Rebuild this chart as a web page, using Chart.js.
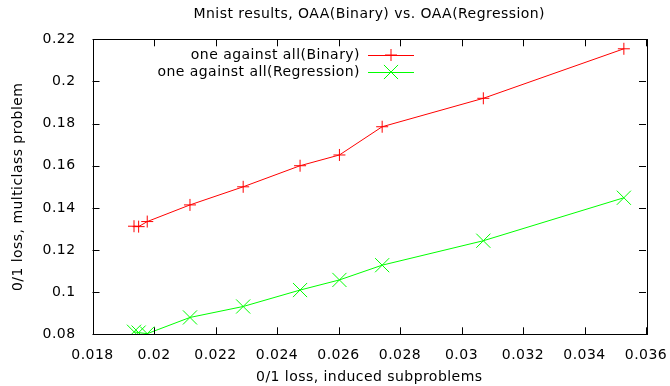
<!DOCTYPE html>
<html>
<head>
<meta charset="utf-8">
<script src="https://cdn.jsdelivr.net/npm/chart.js@4/dist/chart.umd.min.js"></script>
<style>
  html, body { margin: 0; padding: 0; background: #fff; }
  #wrap { width: 670px; height: 386px; }
</style>
</head>
<body>
<div id="wrap"><canvas id="mnistChart" width="670" height="386"></canvas></div>
<script>
// Data
const subproblemLoss = [0.01935, 0.01950, 0.01978, 0.02117, 0.0229, 0.02475, 0.02603, 0.02742, 0.03071, 0.03528];
const binaryLoss = [0.1313, 0.1311, 0.1335, 0.1414, 0.1500, 0.1600, 0.1651, 0.1785, 0.1920, 0.2155];
const regressionLoss = [0.0812, 0.0808, 0.0803, 0.0880, 0.0932, 0.1010, 0.1058, 0.1128, 0.1244, 0.1448];

const xTicks = [0.018, 0.020, 0.022, 0.024, 0.026, 0.028, 0.030, 0.032, 0.034, 0.036];
const xTickLabels = ['0.018', '0.02', '0.022', '0.024', '0.026', '0.028', '0.03', '0.032', '0.034', '0.036'];
const yTicks = [0.08, 0.10, 0.12, 0.14, 0.16, 0.18, 0.20, 0.22];
const yTickLabels = ['0.08', '0.1', '0.12', '0.14', '0.16', '0.18', '0.2', '0.22'];

const seriesNames = ['one against all(Binary)', 'one against all(Regression)'];
const seriesColors = ['#ff0000', '#00ff00'];
const seriesMarkers = ['cross', 'crossRot'];
const markerSizes = [6, 10];

const chartTitle = 'Mnist results, OAA(Binary) vs. OAA(Regression)';
const FONT = '"DejaVu Sans", sans-serif';
const FONT_SIZE = 14;
const SPACING = '0.45px';

function toPoints(xs, ys) {
    return xs.map(function(x, i) { return { x: x, y: ys[i] }; });
}

// gnuplot-like frame, inward ticks, title and key
const gnuplotFrame = {
    id: 'gnuplotFrame',
    beforeLayout: function(chart) { chart.ctx.letterSpacing = SPACING; },
    beforeDraw: function(chart) { chart.ctx.letterSpacing = SPACING; },
    afterDraw: function(chart) {
        const ctx = chart.ctx;
        const a = chart.chartArea;
        const xs = chart.scales.x;
        const ys = chart.scales.y;
        const tick = 7;
        ctx.save();
        ctx.strokeStyle = '#000';
        ctx.lineWidth = 1;
        ctx.strokeRect(Math.round(a.left) + 0.5, Math.round(a.top) + 0.5,
            Math.round(a.right - a.left), Math.round(a.bottom - a.top));
        ctx.beginPath();
        xTicks.forEach(function(v) {
            const px = Math.round(xs.getPixelForValue(v)) + 0.5;
            ctx.moveTo(px, a.bottom); ctx.lineTo(px, a.bottom - tick);
            ctx.moveTo(px, a.top); ctx.lineTo(px, a.top + tick);
        });
        yTicks.forEach(function(v) {
            const py = Math.round(ys.getPixelForValue(v)) + 0.5;
            ctx.moveTo(a.left, py); ctx.lineTo(a.left + tick, py);
            ctx.moveTo(a.right, py); ctx.lineTo(a.right - tick, py);
        });
        ctx.stroke();

        ctx.font = FONT_SIZE + 'px ' + FONT;
        ctx.fillStyle = '#000';
        ctx.textBaseline = 'middle';

        // title, centred over the plot area
        ctx.textAlign = 'center';
        ctx.fillText(chartTitle, (a.left + a.right) / 2, 14);

        // key
        ctx.textAlign = 'right';
        const keyRows = [55, 72];
        chart.data.datasets.forEach(function(ds, i) {
            const y = keyRows[i];
            ctx.fillText(ds.label, 360, y);
            ctx.strokeStyle = ds.borderColor;
            ctx.beginPath();
            ctx.moveTo(368, y + 0.5); ctx.lineTo(414, y + 0.5);
            ctx.stroke();
            Chart.helpers.drawPoint(ctx, {
                pointStyle: ds.pointStyle, radius: ds.pointRadius, borderWidth: 1
            }, 391, y);
        });
        ctx.restore();
    }
};

function initializeMnistChart() {
    const ctx = document.getElementById('mnistChart');
    if (!ctx) return;

    new Chart(ctx, {
        type: 'scatter',
        data: {
            datasets: [
                {
                    label: seriesNames[0],
                    data: toPoints(subproblemLoss, binaryLoss),
                    showLine: true,
                    borderColor: seriesColors[0],
                    backgroundColor: seriesColors[0],
                    borderWidth: 1,
                    pointStyle: seriesMarkers[0],
                    pointRadius: markerSizes[0],
                    pointBorderWidth: 1
                },
                {
                    label: seriesNames[1],
                    data: toPoints(subproblemLoss, regressionLoss),
                    showLine: true,
                    borderColor: seriesColors[1],
                    backgroundColor: seriesColors[1],
                    borderWidth: 1,
                    pointStyle: seriesMarkers[1],
                    pointRadius: markerSizes[1],
                    pointBorderWidth: 1
                }
            ]
        },
        options: {
            responsive: false,
            animation: false,
            layout: { padding: { left: 10, right: 24, top: 39.3, bottom: 0 } },
            plugins: {
                legend: { display: false },
                tooltip: { enabled: false },
                title: { display: false }
            },
            scales: {
                x: {
                    type: 'linear',
                    min: xTicks[0],
                    max: xTicks[xTicks.length - 1],
                    afterBuildTicks: function(scale) {
                        scale.ticks = xTicks.map(function(v) { return { value: v }; });
                    },
                    afterFit: function(scale) {
                        scale.height = 386 - 334.3;
                        scale.paddingLeft = 0;
                        scale.paddingRight = 0;
                    },
                    grid: { display: false },
                    border: { display: false },
                    ticks: {
                        color: '#000',
                        padding: 5,
                        maxRotation: 0,
                        autoSkip: false,
                        font: { family: FONT, size: FONT_SIZE },
                        callback: function(value, index) { return xTickLabels[index]; }
                    },
                    title: {
                        display: true,
                        text: '0/1 loss, induced subproblems',
                        color: '#000',
                        font: { family: FONT, size: FONT_SIZE },
                        padding: { top: 0, bottom: 0 }
                    }
                },
                y: {
                    type: 'linear',
                    min: yTicks[0],
                    max: yTicks[yTicks.length - 1],
                    afterBuildTicks: function(scale) {
                        scale.ticks = yTicks.map(function(v) { return { value: v }; });
                    },
                    afterFit: function(scale) {
                        scale.width = 82.5;
                        scale.paddingTop = 0;
                        scale.paddingBottom = 0;
                    },
                    grid: { display: false },
                    border: { display: false },
                    ticks: {
                        color: '#000',
                        padding: 9,
                        autoSkip: false,
                        font: { family: FONT, size: FONT_SIZE },
                        callback: function(value, index) { return yTickLabels[index]; }
                    },
                    title: {
                        display: true,
                        text: '0/1 loss, multiclass problem',
                        color: '#000',
                        font: { family: FONT, size: FONT_SIZE },
                        padding: { top: 0, bottom: 0 }
                    }
                }
            }
        },
        plugins: [gnuplotFrame]
    });
}

document.addEventListener('DOMContentLoaded', initializeMnistChart);
</script>
</body>
</html>
